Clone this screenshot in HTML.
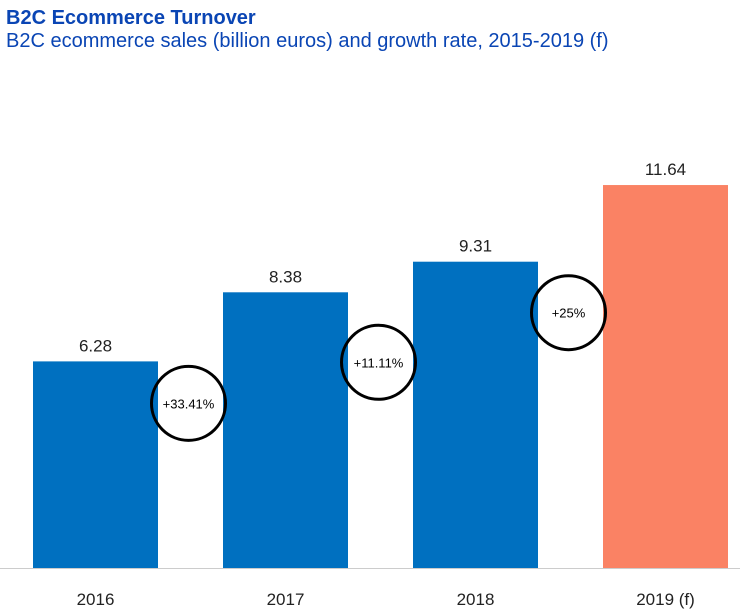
<!DOCTYPE html>
<html><head><meta charset="utf-8"><style>
body{margin:0;background:#fff;font-family:"Liberation Sans",sans-serif;}
svg{display:block}
</style></head><body>
<svg width="740" height="613">
<text x="6" y="24" font-size="20" font-weight="bold" fill="#0a45b4">B2C Ecommerce Turnover</text>
<text x="6" y="47" font-size="20" fill="#0a45b4">B2C ecommerce sales (billion euros) and growth rate, 2015-2019 (f)</text>
<g id="plot"></g>
</svg>
<script>
const categories=["2016","2017","2018","2019 (f)"];
const values=[6.28,8.38,9.31,11.64];
const growth=["+33.41%","+11.11%","+25%"];
const colors=["#0070c0","#0070c0","#0070c0","#fa8264"];
const circleDrop=[42,70,51];
const baseY=568, perUnit=32.9, left=33, step=190, bw=125;
function y(v){return baseY-v*perUnit;}
function x(i){return left+i*step;}
const g=document.getElementById('plot');
const NS="http://www.w3.org/2000/svg";
function mk(t,a){const e=document.createElementNS(NS,t);for(const k in a)e.setAttribute(k,a[k]);g.appendChild(e);return e;}
values.forEach((v,i)=>{
 const r=mk('rect',{x:x(i),y:y(v),width:bw,height:baseY-y(v),fill:colors[i]});
 
 
 const t=mk('text',{x:x(i)+bw/2,y:y(v)-10,'font-size':17,'text-anchor':'middle',fill:'#222'});
 t.textContent=v.toFixed(2);
 
 
 const c=mk('text',{x:x(i)+bw/2,y:605,'font-size':17,'text-anchor':'middle',fill:'#222'});
 c.textContent=categories[i];
 
 
});
const ax=mk('line',{x1:0,x2:740,y1:baseY+0.5,y2:baseY+0.5,stroke:'#ccc','stroke-width':1});


growth.forEach((s,i)=>{
 const cx=x(i)+bw+(step-bw)/2-2, cy=y(values[i])+circleDrop[i];
 const c=mk('circle',{cx:cx,cy:cy,r:37,fill:'none',stroke:'#000','stroke-width':3});
 
 
 const t=mk('text',{x:cx,y:cy+5,'font-size':13,'text-anchor':'middle',fill:'#000'});
 t.textContent=s;
 
 
});
</script>
</body></html>
